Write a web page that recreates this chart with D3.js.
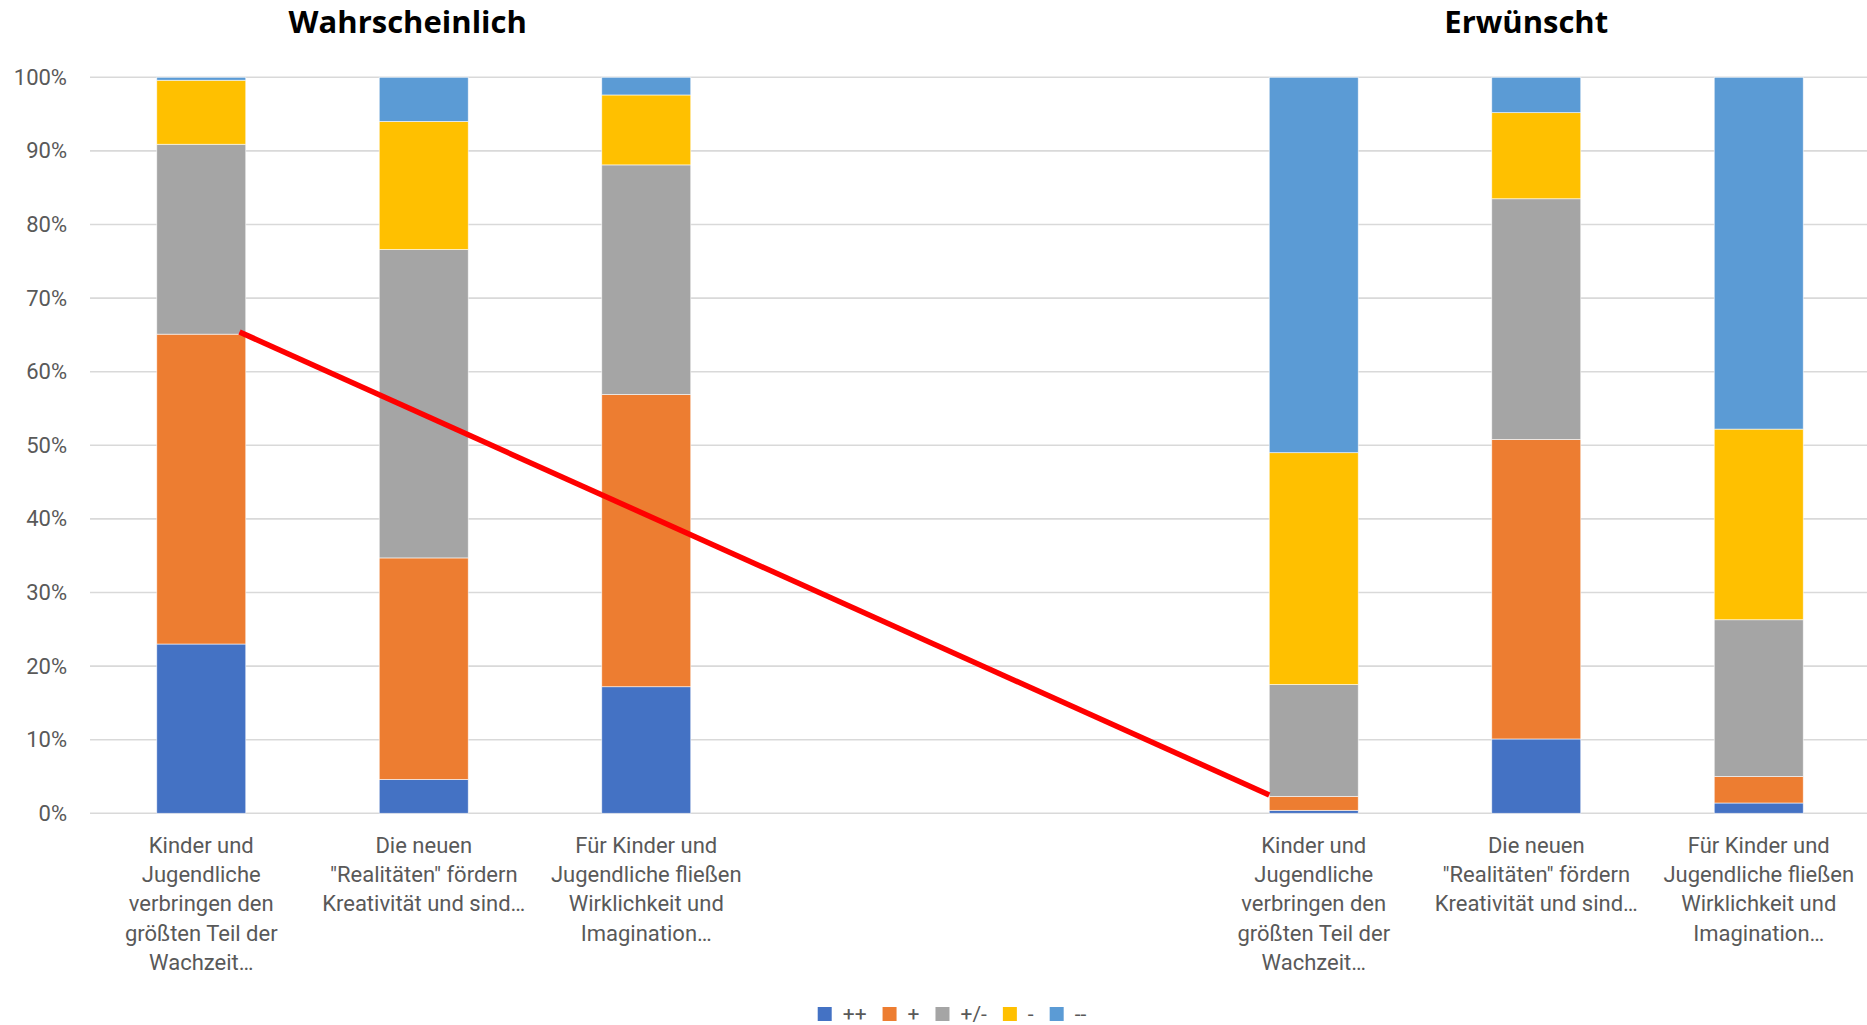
<!DOCTYPE html>
<html>
<head>
<meta charset="utf-8">
<script src="https://cdn.jsdelivr.net/npm/d3@7"></script>
<style>
  body { margin: 0; background: #fff; overflow: hidden; }
  text { font-family: Roboto, "Liberation Sans", sans-serif; }
</style>
</head>
<body>
<svg id="chart" width="1867" height="1025"></svg>
<script>
// Two groups of statements, each rated on a five-point scale (100% stacked)
const groupTitles = ["Wahrscheinlich", "Erwünscht"];
const groupMembers = [["w1", "w2", "w3"], ["e1", "e2", "e3"]];
const groupTitleShift = [-16, -10];

// Band slots along the x axis; the two "gap" slots stay empty between the groups
const categoryIds = ["w1", "w2", "w3", "gap-a", "gap-b", "e1", "e2", "e3"];
const categoryLabels = [
  ["Kinder und", "Jugendliche", "verbringen den", "größten Teil der", "Wachzeit…"],
  ["Die neuen", "\"Realitäten\" fördern", "Kreativität und sind…"],
  ["Für Kinder und", "Jugendliche fließen", "Wirklichkeit und", "Imagination…"],
  [],
  [],
  ["Kinder und", "Jugendliche", "verbringen den", "größten Teil der", "Wachzeit…"],
  ["Die neuen", "\"Realitäten\" fördern", "Kreativität und sind…"],
  ["Für Kinder und", "Jugendliche fließen", "Wirklichkeit und", "Imagination…"]
];

// Bars, in order
const barCategories = ["w1", "w2", "w3", "e1", "e2", "e3"];

// Answer shares in percent, one array per answer option
const seriesKeys = ["++", "+", "+/-", "-", "--"];
const seriesColors = ["#4472C4", "#ED7D31", "#A5A5A5", "#FFC000", "#5B9BD5"];
const valuesPlusPlus   = [23.0,  4.6, 17.2,  0.4, 10.1,  1.4];
const valuesPlus       = [42.1, 30.1, 39.7,  1.9, 40.7,  3.6];
const valuesNeutral    = [25.8, 41.9, 31.2, 15.2, 32.7, 21.3];
const valuesMinus      = [ 8.7, 17.4,  9.5, 31.5, 11.7, 25.9];
const valuesMinusMinus = [ 0.4,  6.0,  2.4, 51.0,  4.8, 47.8];

const yTicks = [0, 10, 20, 30, 40, 50, 60, 70, 80, 90, 100];

// Hand-drawn trend stroke from the first "likely" bar to the first "desired" bar
const trendFrom = { category: "w1", along: 0.93, value: 65.4 };
const trendTo   = { category: "e1", along: 0.0,  value: 2.5 };

// ---------------------------------------------------------------------------
const seriesValues = [valuesPlusPlus, valuesPlus, valuesNeutral, valuesMinus, valuesMinusMinus];
const rows = barCategories.map((c, i) => {
  const r = { category: c };
  seriesKeys.forEach((k, s) => { r[k] = seriesValues[s][i]; });
  return r;
});

const svg = d3.select("#chart");
const plot = { left: 90, right: 1870, top: 77.3, bottom: 813.3 };
const textColor = "#595959";

const x = d3.scaleBand()
  .domain(categoryIds)
  .range([plot.left, plot.right])
  .paddingInner(0.6)
  .paddingOuter(0.3);

const y = d3.scaleLinear().domain([0, 100]).range([plot.bottom, plot.top]);

const color = d3.scaleOrdinal().domain(seriesKeys).range(seriesColors);

// gridlines
svg.append("g")
  .selectAll("line")
  .data(yTicks)
  .join("line")
  .attr("x1", plot.left)
  .attr("x2", plot.right)
  .attr("y1", d => y(d))
  .attr("y2", d => y(d))
  .attr("stroke", "#D9D9D9")
  .attr("stroke-width", 1.6);

// y axis labels
const yAxis = d3.axisLeft(y)
  .tickValues(yTicks)
  .tickFormat(d => d + "%")
  .tickSize(0)
  .tickPadding(0);
const yAxisG = svg.append("g")
  .attr("transform", `translate(${plot.left - 23},0)`)
  .call(yAxis);
yAxisG.select(".domain").remove();
yAxisG.selectAll("text")
  .attr("fill", textColor)
  .style("font-size", "22px")
  .style("font-family", "Roboto, sans-serif");

// stacked bars
const stack = d3.stack().keys(seriesKeys);
const stacked = stack(rows);

svg.append("g")
  .selectAll("g")
  .data(stacked)
  .join("g")
  .attr("fill", d => color(d.key))
  .selectAll("rect")
  .data(d => d)
  .join("rect")
  .attr("x", d => x(d.data.category))
  .attr("width", x.bandwidth())
  .attr("y", d => y(d[1]))
  .attr("height", d => Math.max(0, y(d[0]) - y(d[1])))
  .attr("stroke", "#ffffff")
  .attr("stroke-width", 0.8)
  .attr("stroke-opacity", 0.7);

// category labels
const labelG = svg.append("g");
categoryIds.forEach((id, i) => {
  const cx = x(id) + x.bandwidth() / 2;
  const t = labelG.append("text")
    .attr("x", cx)
    .attr("y", 853)
    .attr("text-anchor", "middle")
    .attr("fill", textColor)
    .style("font-size", "22px");
  categoryLabels[i].forEach((line, j) => {
    t.append("tspan")
      .attr("x", cx)
      .attr("y", 853 + j * 29.2)
      .text(line);
  });
});

// group titles
groupTitles.forEach((title, g) => {
  const mid = groupMembers[g][1];
  svg.append("text")
    .attr("x", x(mid) + x.bandwidth() / 2 + groupTitleShift[g])
    .attr("y", 33)
    .attr("text-anchor", "middle")
    .attr("fill", "#000")
    .style("font-family", "'Open Sans', Roboto, sans-serif")
    .style("font-weight", "700")
    .style("font-size", "31px")
    .text(title);
});

// trend stroke
const trendPt = p => [x(p.category) + p.along * x.bandwidth(), y(p.value)];
svg.append("path")
  .attr("d", d3.line()([trendPt(trendFrom), trendPt(trendTo)]))
  .attr("stroke", "#FF0000")
  .attr("stroke-width", 5.5)
  .attr("fill", "none");

// legend
const legend = svg.append("g");
let lx = 0;
seriesKeys.forEach(k => {
  const g = legend.append("g").attr("transform", `translate(${lx},0)`);
  g.append("rect")
    .attr("x", 0).attr("y", 1007)
    .attr("width", 14).attr("height", 14)
    .attr("fill", color(k));
  const t = g.append("text")
    .attr("x", 25).attr("y", 1014)
    .attr("dominant-baseline", "central")
    .attr("fill", textColor)
    .style("font-size", "21px")
    .text(k);
  const w = t.node().getComputedTextLength();
  lx += 25 + w + 16;
});
const legendWidth = lx - 16;
legend.attr("transform", `translate(${952 - legendWidth / 2},0)`);
</script>
</body>
</html>
